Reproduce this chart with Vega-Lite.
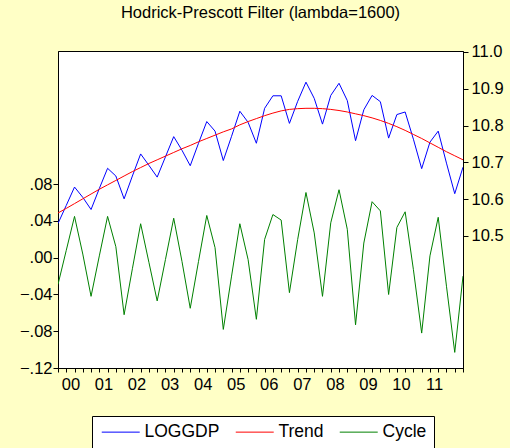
{
  "$schema": "https://vega.github.io/schema/vega-lite/v6.json",
  "width": 405,
  "height": 317,
  "autosize": {"type": "none"},
  "padding": {"left": 58, "top": 51, "right": 47, "bottom": 80},
  "background": "#FFFFC6",
  "title": {"text": "Hodrick-Prescott Filter (lambda=1600)", "fontSize": 16.5, "fontWeight": "normal", "font": "Liberation Sans", "color": "black", "anchor": "middle", "offset": 22},
  "config": {
    "view": {"stroke": "black", "strokeWidth": 1, "fill": "white"},
    "axis": {"domainColor": "black", "tickColor": "black", "labelColor": "black", "grid": false, "labelFontSize": 16.5, "labelFont": "Liberation Sans", "title": null, "domainWidth": 1, "tickWidth": 1},
    "legend": {"labelFont": "Liberation Sans", "labelFontSize": 17.5, "labelColor": "black"}
  },
  "data": {"values": [
    {"q": "2000Q1", "t": 0, "LOGGDP": 10.534, "Trend": 10.5625, "Cycle": -0.029},
    {"q": "2000Q2", "t": 1, "LOGGDP": 10.583, "Trend": 10.575, "Cycle": 0.008},
    {"q": "2000Q3", "t": 2, "LOGGDP": 10.633, "Trend": 10.588, "Cycle": 0.045},
    {"q": "2000Q4", "t": 3, "LOGGDP": 10.605, "Trend": 10.601, "Cycle": 0.004},
    {"q": "2001Q1", "t": 4, "LOGGDP": 10.572, "Trend": 10.614, "Cycle": -0.042},
    {"q": "2001Q2", "t": 5, "LOGGDP": 10.629, "Trend": 10.627, "Cycle": 0.002},
    {"q": "2001Q3", "t": 6, "LOGGDP": 10.684, "Trend": 10.639, "Cycle": 0.045},
    {"q": "2001Q4", "t": 7, "LOGGDP": 10.663, "Trend": 10.651, "Cycle": 0.012},
    {"q": "2002Q1", "t": 8, "LOGGDP": 10.601, "Trend": 10.663, "Cycle": -0.062},
    {"q": "2002Q2", "t": 9, "LOGGDP": 10.663, "Trend": 10.675, "Cycle": -0.012},
    {"q": "2002Q3", "t": 10, "LOGGDP": 10.723, "Trend": 10.686, "Cycle": 0.037},
    {"q": "2002Q4", "t": 11, "LOGGDP": 10.692, "Trend": 10.697, "Cycle": -0.005},
    {"q": "2003Q1", "t": 12, "LOGGDP": 10.660, "Trend": 10.707, "Cycle": -0.047},
    {"q": "2003Q2", "t": 13, "LOGGDP": 10.715, "Trend": 10.717, "Cycle": -0.002},
    {"q": "2003Q3", "t": 14, "LOGGDP": 10.770, "Trend": 10.727, "Cycle": 0.043},
    {"q": "2003Q4", "t": 15, "LOGGDP": 10.733, "Trend": 10.737, "Cycle": -0.004},
    {"q": "2004Q1", "t": 16, "LOGGDP": 10.691, "Trend": 10.746, "Cycle": -0.055},
    {"q": "2004Q2", "t": 17, "LOGGDP": 10.752, "Trend": 10.756, "Cycle": -0.004},
    {"q": "2004Q3", "t": 18, "LOGGDP": 10.811, "Trend": 10.765, "Cycle": 0.046},
    {"q": "2004Q4", "t": 19, "LOGGDP": 10.785, "Trend": 10.774, "Cycle": 0.011},
    {"q": "2005Q1", "t": 20, "LOGGDP": 10.705, "Trend": 10.783, "Cycle": -0.078},
    {"q": "2005Q2", "t": 21, "LOGGDP": 10.771, "Trend": 10.791, "Cycle": -0.020},
    {"q": "2005Q3", "t": 22, "LOGGDP": 10.839, "Trend": 10.802, "Cycle": 0.037},
    {"q": "2005Q4", "t": 23, "LOGGDP": 10.809, "Trend": 10.811, "Cycle": -0.002},
    {"q": "2006Q1", "t": 24, "LOGGDP": 10.752, "Trend": 10.819, "Cycle": -0.067},
    {"q": "2006Q2", "t": 25, "LOGGDP": 10.847, "Trend": 10.827, "Cycle": 0.020},
    {"q": "2006Q3", "t": 26, "LOGGDP": 10.881, "Trend": 10.834, "Cycle": 0.047},
    {"q": "2006Q4", "t": 27, "LOGGDP": 10.881, "Trend": 10.840, "Cycle": 0.041},
    {"q": "2007Q1", "t": 28, "LOGGDP": 10.806, "Trend": 10.844, "Cycle": -0.038},
    {"q": "2007Q2", "t": 29, "LOGGDP": 10.866, "Trend": 10.846, "Cycle": 0.020},
    {"q": "2007Q3", "t": 30, "LOGGDP": 10.918, "Trend": 10.847, "Cycle": 0.071},
    {"q": "2007Q4", "t": 31, "LOGGDP": 10.874, "Trend": 10.847, "Cycle": 0.027},
    {"q": "2008Q1", "t": 32, "LOGGDP": 10.804, "Trend": 10.846, "Cycle": -0.042},
    {"q": "2008Q2", "t": 33, "LOGGDP": 10.882, "Trend": 10.844, "Cycle": 0.038},
    {"q": "2008Q3", "t": 34, "LOGGDP": 10.915, "Trend": 10.841, "Cycle": 0.074},
    {"q": "2008Q4", "t": 35, "LOGGDP": 10.868, "Trend": 10.837, "Cycle": 0.031},
    {"q": "2009Q1", "t": 36, "LOGGDP": 10.759, "Trend": 10.832, "Cycle": -0.073},
    {"q": "2009Q2", "t": 37, "LOGGDP": 10.843, "Trend": 10.827, "Cycle": 0.016},
    {"q": "2009Q3", "t": 38, "LOGGDP": 10.882, "Trend": 10.821, "Cycle": 0.061},
    {"q": "2009Q4", "t": 39, "LOGGDP": 10.865, "Trend": 10.814, "Cycle": 0.051},
    {"q": "2010Q1", "t": 40, "LOGGDP": 10.766, "Trend": 10.806, "Cycle": -0.040},
    {"q": "2010Q2", "t": 41, "LOGGDP": 10.830, "Trend": 10.797, "Cycle": 0.033},
    {"q": "2010Q3", "t": 42, "LOGGDP": 10.837, "Trend": 10.787, "Cycle": 0.050},
    {"q": "2010Q4", "t": 43, "LOGGDP": 10.763, "Trend": 10.776, "Cycle": -0.013},
    {"q": "2011Q1", "t": 44, "LOGGDP": 10.683, "Trend": 10.765, "Cycle": -0.082},
    {"q": "2011Q2", "t": 45, "LOGGDP": 10.755, "Trend": 10.753, "Cycle": 0.002},
    {"q": "2011Q3", "t": 46, "LOGGDP": 10.785, "Trend": 10.741, "Cycle": 0.044},
    {"q": "2011Q4", "t": 47, "LOGGDP": 10.698, "Trend": 10.729, "Cycle": -0.031},
    {"q": "2012Q1", "t": 48, "LOGGDP": 10.615, "Trend": 10.718, "Cycle": -0.103},
    {"q": "2012Q2", "t": 49, "LOGGDP": 10.687, "Trend": 10.707, "Cycle": -0.020}
  ]},
  "encoding": {
    "x": {"field": "t", "type": "quantitative", "scale": {"domain": [0, 49], "nice": false, "zero": false},
      "axis": {"values": [0,1,2,3,4,5,6,7,8,9,10,11,12,13,14,15,16,17,18,19,20,21,22,23,24,25,26,27,28,29,30,31,32,33,34,35,36,37,38,39,40,41,42,43,44,45,46,47,48,49],
        "labelExpr": "datum.value % 4 === 0 && datum.value < 48 ? (datum.value < 40 ? '0' : '') + (datum.value / 4) : ''",
        "labelOffset": 12.4, "labelOverlap": false, "labelFlush": false, "labelBound": false, "tickSize": 4, "labelPadding": 4}}
  },
  "layer": [
    {
      "layer": [
        {"mark": {"type": "line", "strokeWidth": 1, "clip": true},
         "encoding": {
           "y": {"field": "LOGGDP", "type": "quantitative", "scale": {"domain": [10.1413, 11.0027], "nice": false, "zero": false},
             "axis": {"orient": "right", "values": [10.5, 10.6, 10.7, 10.8, 10.9, 11.0], "format": ".1f", "tickSize": 5, "labelPadding": 3}},
           "color": {"datum": "LOGGDP", "type": "nominal", "scale": {"domain": ["LOGGDP", "Trend", "Cycle"], "range": ["#0000FF", "#FF0000", "#008000"]},
             "legend": {"title": null, "orient": "none", "legendX": 34, "legendY": 365, "direction": "horizontal", "strokeColor": "black", "fillColor": "white", "padding": 7, "symbolType": "M-1,0H5.33", "symbolSize": 144, "symbolStrokeWidth": 1, "labelOffset": 28, "columnPadding": 13}}
         }},
        {"mark": {"type": "line", "strokeWidth": 1, "clip": true},
         "encoding": {
           "y": {"field": "Trend", "type": "quantitative", "scale": {"domain": [10.1413, 11.0027], "nice": false, "zero": false},
             "axis": {"orient": "right", "values": [10.5, 10.6, 10.7, 10.8, 10.9, 11.0], "format": ".1f", "tickSize": 5, "labelPadding": 3}},
           "color": {"datum": "Trend", "type": "nominal"}
         }}
      ]
    },
    {"mark": {"type": "line", "strokeWidth": 1, "clip": true},
     "encoding": {
       "y": {"field": "Cycle", "type": "quantitative", "scale": {"domain": [-0.12, 0.225], "nice": false, "zero": false},
         "axis": {"orient": "left", "values": [-0.12, -0.08, -0.04, 0, 0.04, 0.08], "labelExpr": "replace(format(datum.value, '.2f'), '0.', '.')", "tickSize": 5, "labelPadding": 1}},
       "color": {"datum": "Cycle", "type": "nominal"}
     }}
  ],
  "resolve": {"scale": {"y": "independent"}}
}
